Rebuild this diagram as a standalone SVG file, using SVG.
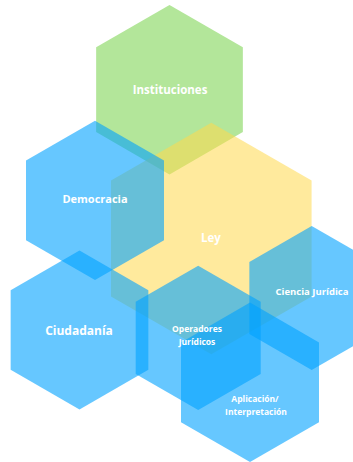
<svg xmlns="http://www.w3.org/2000/svg" width="353" height="462" viewBox="0 0 353 462">
<style>
.blue{fill:#00a2ff;fill-opacity:0.6}
.green{fill:#b3e69a}
.yellow{fill:#ffd84d;fill-opacity:0.55}
.t{font-family:"Open Sans","Liberation Sans",sans-serif;font-weight:700;fill:#ffffff;text-anchor:middle}
</style>
<rect width="353" height="462" fill="#ffffff"/>
<g id="instituciones">
<polygon class="green" points="169.5,5 242.85,47.35 242.85,132.05 169.5,174.4 96.15,132.05 96.15,47.35"/>
</g>
<g id="ley">
<polygon class="yellow" points="211.3,122.7 311.6,180.6 311.6,296.4 211.3,354.3 111,296.4 111,180.6"/>
</g>
<g id="democracia">
<polygon class="blue" points="95,120.7 164,160.55 164,240.25 95,280.1 26,240.25 26,160.55"/>
</g>
<g id="ciencia">
<polygon class="blue" points="311.7,226 374.05,262 374.05,334 311.7,370 249.35,334 249.35,262"/>
</g>
<g id="ciudadania">
<polygon class="blue" points="79.5,250.5 148.35,290.25 148.35,369.75 79.5,409.5 10.65,369.75 10.65,290.25"/>
</g>
<g id="operadores">
<polygon class="blue" points="198.2,265.7 260.7,301.8 260.7,374 198.2,410.1 135.7,374 135.7,301.8"/>
</g>
<g id="aplicacion">
<polygon class="blue" points="250,302.6 319,342.45 319,422.15 250,462 181,422.15 181,342.45"/>
</g>
<g id="labels">
<text class="t" x="170" y="94" font-size="11.5">Instituciones</text>
<text class="t" x="95" y="203" font-size="11">Democracia</text>
<text class="t" x="211" y="242" font-size="11.5">Ley</text>
<text class="t" x="312" y="295" font-size="9.5">Ciencia Jurídica</text>
<text class="t" x="79" y="335" font-size="12">Ciudadanía</text>
<text class="t" x="197" y="332" font-size="8.5">Operadores</text>
<text class="t" x="197" y="345" font-size="8.5">Jurídicos</text>
<text class="t" x="255" y="402" font-size="8.5">Aplicación/</text>
<text class="t" x="256" y="415" font-size="8.5">Interpretación</text>
</g>
</svg>
